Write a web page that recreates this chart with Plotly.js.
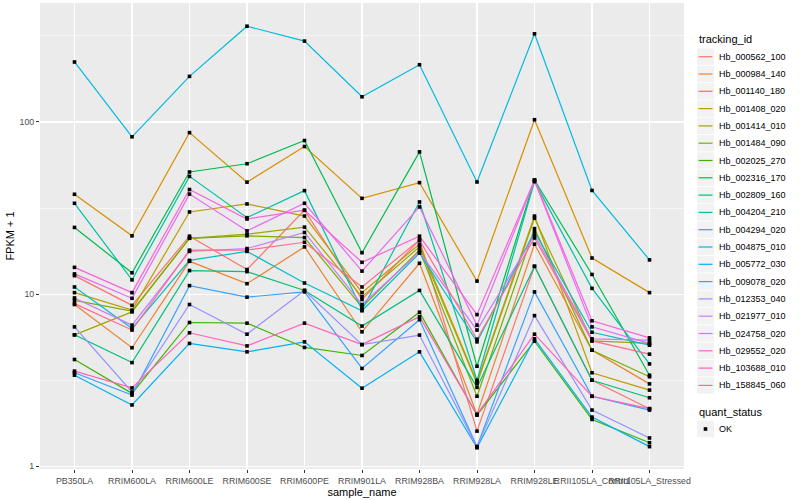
<!DOCTYPE html>
<html><head><meta charset="utf-8">
<script src="https://cdn.plot.ly/plotly-3.0.1.min.js"></script>
<style>html,body{margin:0;padding:0;background:#fff}#chart{width:800px;height:500px}</style>
</head><body><div id="chart"></div>
<script>
// ---- data ----
const categories = ["PB350LA","RRIM600LA","RRIM600LE","RRIM600SE","RRIM600PE","RRIM901LA","RRIM928BA","RRIM928LA","RRIM928LE","RRII105LA_Control","RRII105LA_Stressed"];
const trackingIds = ["Hb_000562_100","Hb_000984_140","Hb_001140_180","Hb_001408_020","Hb_001414_010","Hb_001484_090","Hb_002025_270","Hb_002316_170","Hb_002809_160","Hb_004204_210","Hb_004294_020","Hb_004875_010","Hb_005772_030","Hb_009078_020","Hb_012353_040","Hb_021977_010","Hb_024758_020","Hb_029552_020","Hb_103688_010","Hb_158845_060"];
const quantStatus = ["OK"];
const yTickValues = [1, 10, 100];
const yTickLabels = ["1", "10", "100"];

const Hb_000562_100 = [12.8, 8.6, 21.7, 13.9, 30.7, 9.3, 20.6, 1.6, 14.5, 3.16, 2.16];
const Hb_000984_140 = [8.7, 4.88, 15.5, 11.5, 18.8, 6.04, 15.1, 2.0, 19.5, 4.72, 3.01];
const Hb_001140_180 = [38, 21.8, 86.7, 44.7, 72, 36, 44.4, 11.9, 103, 16.2, 10.2];
const Hb_001408_020 = [10.2, 8.07, 30.0, 33.4, 28.4, 10.2, 19.5, 3.09, 28.4, 3.49, 2.77];
const Hb_001414_010 = [5.8, 7.88, 21.1, 22.3, 24.5, 9.65, 18.8, 3.02, 27.6, 5.35, 5.17];
const Hb_001484_090 = [9.2, 7.96, 21.1, 21.8, 21.3, 8.4, 18.0, 2.55, 24, 4.72, 3.31];
const Hb_002025_270 = [4.17, 2.65, 6.84, 6.78, 4.9, 4.4, 7.85, 1.98, 5.33, 1.87, 1.37];
const Hb_002316_170 = [24.4, 13.3, 51.2, 57.2, 78, 17.4, 67, 3.81, 46, 13.0, 3.38];
const Hb_002809_160 = [5.8, 4.0, 13.7, 13.5, 10.5, 6.52, 10.5, 2.87, 14.5, 3.16, 2.50];
const Hb_004204_210 = [33.7, 12.1, 48.3, 27.8, 39.9, 8.1, 34.3, 3.16, 45, 10.8, 3.93];
const Hb_004294_020 = [11.0, 6.32, 15.7, 17.7, 11.6, 8.0, 17.3, 5.28, 23, 6.0, 5.05];
const Hb_004875_010 = [223, 82, 184, 360, 295, 140, 215, 44.8, 325, 40, 15.8];
const Hb_005772_030 = [3.38, 2.27, 5.17, 4.62, 5.28, 2.84, 4.62, 1.28, 5.5, 1.93, 1.30];
const Hb_009078_020 = [3.49, 2.59, 11.2, 9.6, 10.3, 3.70, 7.1, 1.30, 10.3, 2.55, 2.12];
const Hb_012353_040 = [6.45, 2.70, 8.7, 5.85, 10.5, 5.09, 5.78, 1.30, 7.5, 2.12, 1.46];
const Hb_021977_010 = [9.5, 6.6, 17.7, 18.4, 22.8, 8.7, 17.5, 6.18, 22, 5.5, 5.4];
const Hb_024758_020 = [13.1, 9.45, 38.1, 23.3, 33.7, 13.6, 32.1, 6.6, 45.5, 6.45, 5.17];
const Hb_029552_020 = [14.3, 10.2, 40.5, 27.3, 30.7, 15.3, 21.7, 7.6, 46, 7.0, 5.57];
const Hb_103688_010 = [3.57, 2.85, 5.96, 5.0, 6.78, 5.09, 7.4, 2.0, 5.85, 2.55, 2.16];
const Hb_158845_060 = [8.8, 6.18, 18.0, 18.0, 20, 11.0, 20.6, 5.47, 21.2, 5.35, 4.48];

const seriesValues = [Hb_000562_100, Hb_000984_140, Hb_001140_180, Hb_001408_020, Hb_001414_010,
  Hb_001484_090, Hb_002025_270, Hb_002316_170, Hb_002809_160, Hb_004204_210, Hb_004294_020,
  Hb_004875_010, Hb_005772_030, Hb_009078_020, Hb_012353_040, Hb_021977_010, Hb_024758_020,
  Hb_029552_020, Hb_103688_010, Hb_158845_060];

// ---- styles ----
const palette = ["#F8766D","#EA8331","#D89000","#C09B00","#A3A500","#7CAE00","#39B600","#00BB4E","#00BF7D","#00C1A3","#00BFC4","#00BAE0","#00B0F6","#35A2FF","#9590FF","#C77CFF","#E76BF3","#FA62DB","#FF62BC","#FF6C91"];
const FONT = "Liberation Sans, Arial, sans-serif";
const L = 40, R = 684, T = 3, B = 469;
const px2x = px => (px - L) / (R - L);
const px2y = py => (B - py) / (B - T);

const traces = [];
seriesValues.forEach((vals, i) => {
  traces.push({x: categories, y: vals, type: "scatter", mode: "lines", name: trackingIds[i],
    line: {color: palette[i], width: 1.2}, showlegend: false, hoverinfo: "skip"});
});
seriesValues.forEach((vals, i) => {
  traces.push({x: categories, y: vals, type: "scatter", mode: "markers", name: quantStatus[0],
    marker: {color: "#000", size: 3.6, symbol: "square"}, showlegend: false, hoverinfo: "skip"});
});

const shapes = [], annotations = [];
// legend: tracking_id
annotations.push({xref: "paper", yref: "paper", x: px2x(697), y: px2y(39), xanchor: "left", yanchor: "middle",
  text: "tracking_id", showarrow: false, font: {family: FONT, size: 11, color: "#000"}});
trackingIds.forEach((id, i) => {
  const cy = 56.7 + i * 17.3;
  shapes.push({type: "rect", xref: "paper", yref: "paper", x0: px2x(697), x1: px2x(714),
    y0: px2y(cy - 8.2), y1: px2y(cy + 8.2), fillcolor: "#F2F2F2", line: {width: 0}, layer: "above"});
  shapes.push({type: "line", xref: "paper", yref: "paper", x0: px2x(698.5), x1: px2x(712.5),
    y0: px2y(cy), y1: px2y(cy), line: {color: palette[i], width: 1.2}, layer: "above"});
  annotations.push({xref: "paper", yref: "paper", x: px2x(716.5), y: px2y(cy), xanchor: "left", yanchor: "middle",
    text: id, showarrow: false, font: {family: FONT, size: 9, color: "#000"}});
});
// legend: quant_status
annotations.push({xref: "paper", yref: "paper", x: px2x(697), y: px2y(412), xanchor: "left", yanchor: "middle",
  text: "quant_status", showarrow: false, font: {family: FONT, size: 11, color: "#000"}});
const okY = 429;
shapes.push({type: "rect", xref: "paper", yref: "paper", x0: px2x(697), x1: px2x(714),
  y0: px2y(okY - 8.2), y1: px2y(okY + 8.2), fillcolor: "#F2F2F2", line: {width: 0}, layer: "above"});
shapes.push({type: "rect", xref: "paper", yref: "paper", x0: px2x(703.7), x1: px2x(707.3),
  y0: px2y(okY - 1.8), y1: px2y(okY + 1.8), fillcolor: "#000", line: {width: 0}, layer: "above"});
annotations.push({xref: "paper", yref: "paper", x: px2x(716.5), y: px2y(okY), xanchor: "left", yanchor: "middle",
  text: quantStatus[0], showarrow: false, font: {family: FONT, size: 9, color: "#000"}});

const layout = {
  width: 800, height: 500,
  margin: {l: L, r: 800 - R, t: T, b: 500 - B, pad: 0},
  paper_bgcolor: "#FFFFFF", plot_bgcolor: "#EBEBEB",
  font: {family: FONT, color: "#000"},
  showlegend: false,
  xaxis: {type: "category", categoryorder: "array", categoryarray: categories, range: [-0.6, 10.6],
    showgrid: true, gridcolor: "#FFFFFF", gridwidth: 1.1, zeroline: false, showline: false,
    ticks: "outside", ticklen: 3, tickwidth: 1, tickcolor: "#333333", tickangle: 0,
    tickfont: {family: FONT, size: 8.8, color: "#4D4D4D"},
    title: {text: "sample_name", font: {family: FONT, size: 11, color: "#000"}, standoff: 1}, fixedrange: true},
  yaxis: {type: "log", range: [-0.016, 2.691], tickmode: "array", tickvals: yTickValues, ticktext: yTickLabels,
    showgrid: true, gridcolor: "#FFFFFF", gridwidth: 1.1, zeroline: false, showline: false,
    ticks: "outside", ticklen: 3, tickwidth: 1, tickcolor: "#333333",
    tickfont: {family: FONT, size: 8.8, color: "#4D4D4D"},
    minor: {tickmode: "array", tickvals: [3.1623, 31.623, 316.23], showgrid: true, gridcolor: "#FFFFFF", gridwidth: 0.55, ticks: ""},
    title: {text: "FPKM + 1", font: {family: FONT, size: 11, color: "#000"}, standoff: 2}, fixedrange: true},
  shapes: shapes, annotations: annotations
};
Plotly.newPlot("chart", traces, layout, {displayModeBar: false, staticPlot: true});
</script></body></html>
